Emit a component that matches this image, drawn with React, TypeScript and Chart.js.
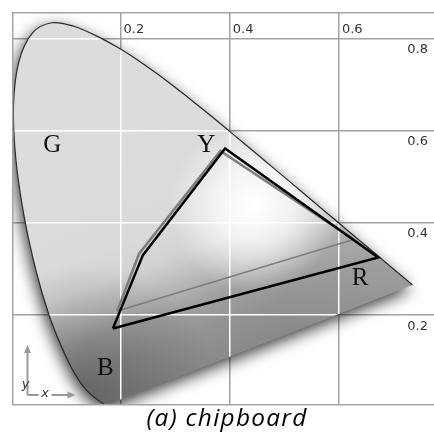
import { useEffect, useRef } from 'react';
import { Chart, registerables } from 'chart.js';

Chart.register(...registerables);

// CIE 1931 spectral locus (380–700 nm)
const LOCUS_X = [
  0.1741, 0.174, 0.1738, 0.1736, 0.1733, 0.173, 0.1726, 0.1721, 0.1714, 0.1703,
  0.1689, 0.1669, 0.1644, 0.1611, 0.1566, 0.151, 0.144, 0.1355, 0.1241, 0.1096,
  0.0913, 0.0687, 0.0454, 0.0235, 0.0082, 0.0039, 0.0139, 0.0389, 0.0743, 0.1142,
  0.1547, 0.1929, 0.2296, 0.2658, 0.3016, 0.3373, 0.3731, 0.4087, 0.4441, 0.4788,
  0.5125, 0.5448, 0.5752, 0.6029, 0.627, 0.6482, 0.6658, 0.6801, 0.6915, 0.7006,
  0.7079, 0.714, 0.719, 0.723, 0.726, 0.7283, 0.73, 0.7311, 0.732, 0.7334,
  0.7344, 0.7347,
];
const LOCUS_Y = [
  0.005, 0.005, 0.0049, 0.0049, 0.0048, 0.0048, 0.0048, 0.0048, 0.0051, 0.0058,
  0.0069, 0.0086, 0.0109, 0.0138, 0.0177, 0.0227, 0.0297, 0.0399, 0.0578, 0.0868,
  0.1327, 0.2007, 0.295, 0.4127, 0.5384, 0.6548, 0.7502, 0.812, 0.8338, 0.8262,
  0.8059, 0.7816, 0.7543, 0.7243, 0.6923, 0.6589, 0.6245, 0.5896, 0.5547, 0.5202,
  0.4866, 0.4544, 0.4242, 0.3965, 0.3725, 0.3514, 0.334, 0.3197, 0.3083, 0.2993,
  0.292, 0.2859, 0.2809, 0.277, 0.274, 0.2717, 0.27, 0.2689, 0.268, 0.2666,
  0.2656, 0.2653,
];

// Device gamut (black) and measured gamut (gray), closed polygons
const GAMUT_X = [0.186, 0.241, 0.3915, 0.672, 0.186];
const GAMUT_Y = [0.171, 0.33, 0.561, 0.325, 0.171];
const MEASURED_X = [0.194, 0.234, 0.383, 0.627, 0.194];
const MEASURED_Y = [0.209, 0.333, 0.556, 0.364, 0.209];

// Axes
const X_MIN = 0.003;
const X_MAX = 0.82;
const Y_MIN = 0.005;
const Y_MAX = 0.855;
const X_TICKS = [0.2, 0.4, 0.6];
const X_TICK_LABELS = ['0.2', '0.4', '0.6'];
const Y_TICKS = [0.2, 0.4, 0.6, 0.8];
const Y_TICK_LABELS = ['0.2', '0.4', '0.6', '0.8'];

// Primary names, anchored at label baseline centre
const PRIMARY_NAMES = ['G', 'Y', 'R', 'B'];
const PRIMARY_X = [0.075, 0.357, 0.639, 0.172];
const PRIMARY_Y = [0.553, 0.553, 0.265, 0.07];

const CAPTION = '(a) chipboard';

const GRID_COLOR = '#a3a3a3';
const GRID_WIDTH = 1.5;

const toPoints = (xs: number[], ys: number[]) => xs.map((x, i) => ({ x, y: ys[i] }));
const align = (p: number, w: number) => Math.round(p - w / 2) + w / 2;

const locusIndex = (chart: any) => chart.data.datasets.findIndex((d: any) => d.label === 'locus');

// Closed locus outline following the same spline the line element draws
const locusPath = (chart: any) => {
  const pts = chart.getDatasetMeta(locusIndex(chart)).data;
  const path = new Path2D();
  pts.forEach((pt: any, i: number) => {
    if (!i) {
      path.moveTo(pt.x, pt.y);
      return;
    }
    const prev = pts[i - 1];
    if (prev.cp2x !== undefined && pt.cp1x !== undefined) {
      path.bezierCurveTo(prev.cp2x, prev.cp2y, pt.cp1x, pt.cp1y, pt.x, pt.y);
    } else {
      path.lineTo(pt.x, pt.y);
    }
  });
  path.closePath();
  return path;
};

const shadingPlugin = {
  id: 'locusShading',
  beforeDatasetsDraw(chart: any) {
    const { ctx, chartArea: a, scales } = chart;
    const px = (v: number) => scales.x.getPixelForValue(v);
    const py = (v: number) => scales.y.getPixelForValue(v);
    const path = locusPath(chart);
    const w = a.right - a.left;
    const h = a.bottom - a.top;

    ctx.save();
    ctx.beginPath();
    ctx.rect(a.left, a.top, w, h);
    ctx.clip();

    // base shading, darkening towards the line of purples, with a soft drop shadow
    const base = ctx.createLinearGradient(px(0.434), py(0.135), px(0.272), py(0.64));
    base.addColorStop(0, '#8a8a8a');
    base.addColorStop(0.12, '#939393');
    base.addColorStop(0.24, '#a2a2a2');
    base.addColorStop(0.34, '#bcbcbc');
    base.addColorStop(0.44, '#d2d2d2');
    base.addColorStop(0.56, '#dadada');
    base.addColorStop(1, '#dcdcdc');
    ctx.shadowColor = 'rgba(0,0,0,0.8)';
    ctx.shadowBlur = 16;
    ctx.shadowOffsetX = -2;
    ctx.shadowOffsetY = 5;
    ctx.fillStyle = base;
    ctx.fill(path);
    ctx.shadowColor = 'transparent';
    ctx.shadowBlur = 0;
    ctx.shadowOffsetX = 0;
    ctx.shadowOffsetY = 0;

    ctx.clip(path);

    // darker corner at the blue end
    const dcx = px(0.14);
    const dcy = py(0.03);
    const dark = ctx.createRadialGradient(dcx, dcy, 0, dcx, dcy, 130);
    dark.addColorStop(0, 'rgba(30,30,30,0.36)');
    dark.addColorStop(1, 'rgba(30,30,30,0)');
    ctx.fillStyle = dark;
    ctx.fillRect(a.left, a.top, w, h);

    // slightly lighter towards the red end
    const red = ctx.createLinearGradient(px(0.5), 0, px(0.73), 0);
    red.addColorStop(0, 'rgba(255,255,255,0)');
    red.addColorStop(1, 'rgba(255,255,255,0.14)');
    ctx.fillStyle = red;
    ctx.fillRect(a.left, a.top, w, h);

    // bright highlight near the white point
    const wcx = px(0.445);
    const wcy = py(0.435);
    const glow = ctx.createRadialGradient(wcx, wcy, 0, wcx, wcy, 85);
    glow.addColorStop(0, 'rgba(255,255,255,1)');
    glow.addColorStop(0.45, 'rgba(255,255,255,0.7)');
    glow.addColorStop(1, 'rgba(255,255,255,0)');
    ctx.fillStyle = glow;
    ctx.fillRect(a.left, a.top, w, h);

    // grid lines show white across the locus
    ctx.strokeStyle = '#ffffff';
    ctx.lineWidth = GRID_WIDTH;
    X_TICKS.forEach((v) => {
      const p = align(px(v), GRID_WIDTH);
      ctx.beginPath();
      ctx.moveTo(p, a.top);
      ctx.lineTo(p, a.bottom);
      ctx.stroke();
    });
    Y_TICKS.forEach((v) => {
      const p = align(py(v), GRID_WIDTH);
      ctx.beginPath();
      ctx.moveTo(a.left, p);
      ctx.lineTo(a.right, p);
      ctx.stroke();
    });
    ctx.restore();
  },
  afterDatasetsDraw(chart: any) {
    const { ctx, chartArea: a, scales } = chart;
    const px = (v: number) => scales.x.getPixelForValue(v);
    const py = (v: number) => scales.y.getPixelForValue(v);

    ctx.save();
    // frame
    ctx.strokeStyle = GRID_COLOR;
    ctx.lineWidth = GRID_WIDTH;
    ctx.strokeRect(align(a.left, GRID_WIDTH), align(a.top, GRID_WIDTH), a.right - a.left + 4, a.bottom - a.top);

    // tick labels
    ctx.fillStyle = '#333333';
    ctx.font = '13px "DejaVu Sans"';
    ctx.textBaseline = 'alphabetic';
    ctx.textAlign = 'left';
    X_TICKS.forEach((v, i) => ctx.fillText(X_TICK_LABELS[i], px(v) + 3, a.top + 20));
    ctx.textAlign = 'right';
    Y_TICKS.forEach((v, i) => ctx.fillText(Y_TICK_LABELS[i], 428, py(v) + 14.5));

    // primary names
    ctx.fillStyle = '#111111';
    ctx.font = '25px "Liberation Serif"';
    ctx.textAlign = 'center';
    PRIMARY_NAMES.forEach((t, i) => ctx.fillText(t, px(PRIMARY_X[i]), py(PRIMARY_Y[i])));

    // orientation glyph in the lower-left corner
    const ox = a.left + 14.5;
    const oy = a.bottom - 10;
    ctx.strokeStyle = '#9a9a9a';
    ctx.fillStyle = '#9a9a9a';
    ctx.lineWidth = 2;
    ctx.beginPath();
    ctx.moveTo(ox, oy);
    ctx.lineTo(ox, oy - 44);
    ctx.moveTo(ox, oy);
    ctx.lineTo(ox + 11, oy);
    ctx.moveTo(ox + 24, oy);
    ctx.lineTo(ox + 42, oy);
    ctx.stroke();
    ctx.beginPath();
    ctx.moveTo(ox, oy - 50);
    ctx.lineTo(ox - 3.5, oy - 42);
    ctx.lineTo(ox + 3.5, oy - 42);
    ctx.closePath();
    ctx.moveTo(ox + 48, oy);
    ctx.lineTo(ox + 40, oy - 3.5);
    ctx.lineTo(ox + 40, oy + 3.5);
    ctx.closePath();
    ctx.fill();
    ctx.fillStyle = '#3a3a3a';
    ctx.font = 'italic 13px "DejaVu Sans"';
    ctx.textAlign = 'center';
    ctx.fillText('y', ox - 2, oy - 7);
    ctx.fillText('x', ox + 17.5, oy + 2);
    ctx.restore();
  },
};

export default function App() {
  const canvasRef = useRef<HTMLCanvasElement | null>(null);

  useEffect(() => {
    const canvas = canvasRef.current;
    if (!canvas) return;
    const chart = new Chart(canvas, {
      type: 'scatter',
      data: {
        datasets: [
          {
            label: 'gamut',
            data: toPoints(GAMUT_X, GAMUT_Y),
            showLine: true,
            borderColor: '#000000',
            borderWidth: 2.5,
            pointRadius: 0,
            fill: false,
            tension: 0,
            borderJoinStyle: 'miter',
          },
          {
            label: 'measured',
            data: toPoints(MEASURED_X, MEASURED_Y),
            showLine: true,
            borderColor: '#7d7d7d',
            borderWidth: 2.5,
            pointRadius: 0,
            fill: false,
            tension: 0,
            segment: {
              borderWidth: (c: any) => (c.p0DataIndex === MEASURED_X.length - 2 ? 1.5 : 2.5),
            },
          },
          {
            label: 'locus',
            data: toPoints(LOCUS_X, LOCUS_Y),
            showLine: true,
            borderColor: '#2a2a2a',
            borderWidth: 1.2,
            pointRadius: 0,
            fill: false,
            tension: 0.35,
          },
        ],
      } as any,
      options: {
        animation: false,
        responsive: false,
        events: [],
        layout: { padding: { left: 13, top: 13, right: 11, bottom: 5 } },
        plugins: { legend: { display: false }, tooltip: { enabled: false } },
        scales: {
          x: {
            type: 'linear',
            min: X_MIN,
            max: X_MAX,
            afterBuildTicks: (axis: any) => {
              axis.ticks = X_TICKS.map((value) => ({ value }));
            },
            ticks: { display: false },
            grid: { color: GRID_COLOR, lineWidth: GRID_WIDTH, drawTicks: false },
            border: { display: false },
          },
          y: {
            type: 'linear',
            min: Y_MIN,
            max: Y_MAX,
            afterBuildTicks: (axis: any) => {
              axis.ticks = Y_TICKS.map((value) => ({ value }));
            },
            ticks: { display: false },
            grid: { color: GRID_COLOR, lineWidth: GRID_WIDTH, drawTicks: false },
            border: { display: false },
          },
        },
      } as any,
      plugins: [shadingPlugin],
    });
    return () => chart.destroy();
  }, []);

  return (
    <div
      style={{
        position: 'fixed',
        left: 0,
        top: 0,
        width: 434,
        height: 432,
        overflow: 'hidden',
        background: '#ffffff',
      }}
    >
      <canvas
        ref={canvasRef}
        width={470}
        height={410}
        style={{ position: 'absolute', left: 0, top: 0, width: 470, height: 410 }}
      />
      <div
        style={{
          position: 'absolute',
          left: 0,
          top: 403,
          width: 454,
          textAlign: 'center',
          fontFamily: '"Open Sans", sans-serif',
          fontStyle: 'italic',
          fontSize: 23,
          letterSpacing: '1.2px',
          lineHeight: '28px',
          color: '#000000',
          transform: 'scaleX(1.06)',
          transformOrigin: '227px 0',
          whiteSpace: 'nowrap',
        }}
      >
        {CAPTION}
      </div>
    </div>
  );
}
